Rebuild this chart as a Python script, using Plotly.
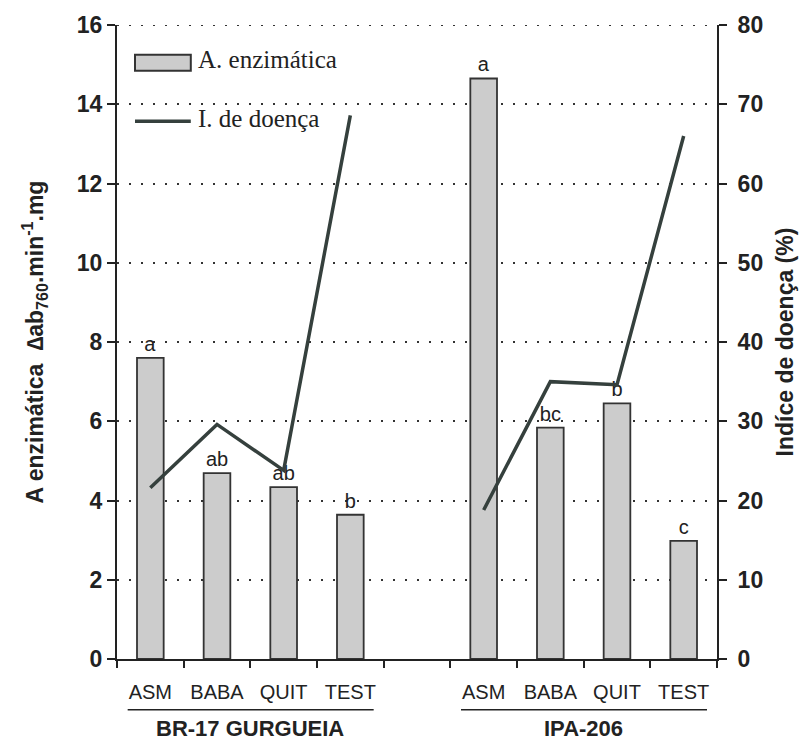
import plotly.graph_objects as go

# Treatments and cultivars
treatments = ["ASM", "BABA", "QUIT", "TEST"]
cultivars = ["BR-17 GURGUEIA", "IPA-206"]

# Enzymatic activity (Δab760·min⁻¹·mg) per treatment
enzyme_br17 = [7.60, 4.69, 4.34, 3.64]
enzyme_ipa206 = [14.65, 5.84, 6.45, 2.98]

# Mean-separation letters shown above the bars
letters_br17 = ["a", "ab", "ab", "b"]
letters_ipa206 = ["a", "bc", "b", "c"]

# Disease index (%) per treatment
disease_br17 = [21.6, 29.6, 23.8, 68.6]
disease_ipa206 = [18.8, 35.0, 34.6, 66.0]

# Numeric slots: one per treatment, with an empty slot between cultivars
n = len(treatments)
pos_br17 = list(range(n))
pos_ipa206 = [n + 1 + i for i in range(n)]
all_pos = pos_br17 + [n] + pos_ipa206

bar_x = pos_br17 + pos_ipa206
bar_y = enzyme_br17 + enzyme_ipa206
bar_text = letters_br17 + letters_ipa206

line_x = all_pos
line_y = disease_br17 + [None] + disease_ipa206

tick_vals = pos_br17 + pos_ipa206
tick_text = treatments + treatments

INK = "#222222"
BAR_FILL = "#cccccc"
BAR_EDGE = "#333333"
LINE_COLOR = "#35403d"
SANS = "Liberation Sans, Arial, sans-serif"
SERIF = "Liberation Serif, Times New Roman, serif"
DOTS = "2px,10px"

fig = go.Figure()

fig.add_trace(go.Bar(
    x=bar_x, y=bar_y, width=0.4,
    name="A. enzimática", showlegend=False,
    marker=dict(color=BAR_FILL, line=dict(color=BAR_EDGE, width=1.8)),
    text=bar_text, textposition="outside", constraintext="none",
    textfont=dict(family=SANS, size=20, color=INK),
    cliponaxis=False, hoverinfo="x+y",
))

fig.add_trace(go.Scatter(
    x=line_x, y=line_y, yaxis="y2", mode="lines",
    name="I. de doença", showlegend=False,
    line=dict(color=LINE_COLOR, width=3.5),
    connectgaps=False,
))

# Dotted rule along the top of the plot (gridline at the range end)
fig.add_shape(type="line", xref="paper", yref="y", x0=0, x1=1, y0=16, y1=16,
              line=dict(color=BAR_EDGE, width=2, dash=DOTS), layer="below")

# Key: wide swatches with serif labels in the upper-left corner
fig.add_shape(type="rect", xref="paper", yref="paper",
              x0=0.030, x1=0.123, y0=0.928, y1=0.953,
              fillcolor=BAR_FILL, line=dict(color=BAR_EDGE, width=2))
fig.add_shape(type="line", xref="paper", yref="paper",
              x0=0.030, x1=0.123, y0=0.848, y1=0.848,
              line=dict(color=LINE_COLOR, width=3.5))
for label, ypos in [("A. enzimática", 0.945), ("I. de doença", 0.852)]:
    fig.add_annotation(x=0.131, y=ypos, xref="paper", yref="paper",
                       text=label, showarrow=False,
                       xanchor="left", yanchor="middle",
                       font=dict(family=SERIF, size=25, color=INK))

# Underlines and cultivar names beneath the treatment labels
for positions, name in [(pos_br17, cultivars[0]), (pos_ipa206, cultivars[1])]:
    fig.add_shape(type="line", xref="x", yref="paper",
                  x0=positions[0] - 0.34, x1=positions[-1] + 0.35,
                  y0=-0.080, y1=-0.080,
                  line=dict(color=INK, width=1.5))
    fig.add_annotation(x=(positions[0] + positions[-1]) / 2, y=-0.110,
                       xref="x", yref="paper", text=f"<b>{name}</b>",
                       showarrow=False, yanchor="middle",
                       font=dict(family=SANS, size=22, color=INK))

fig.update_layout(
    width=809, height=741,
    margin=dict(l=117, r=92, t=21, b=82),
    paper_bgcolor="white", plot_bgcolor="white",
    showlegend=False,
    xaxis=dict(
        range=[-0.5, all_pos[-1] + 0.5],
        tickmode="array", tickvals=tick_vals, ticktext=tick_text,
        ticks="", showgrid=False, zeroline=False,
        showline=True, linecolor=INK, linewidth=2,
        tickfont=dict(family=SANS, size=20, color=INK),
        ticklabelstandoff=14,
        minor=dict(tickmode="array",
                   tickvals=[p - 0.5 for p in all_pos] + [all_pos[-1] + 0.5],
                   ticks="outside", ticklen=7, tickwidth=2, tickcolor=INK,
                   showgrid=False),
    ),
    yaxis=dict(
        range=[0, 16], dtick=2, tick0=0,
        ticks="outside", ticklen=8, tickwidth=2, tickcolor=INK,
        showline=True, linecolor=INK, linewidth=2,
        showgrid=True, gridcolor=BAR_EDGE, gridwidth=2, griddash=DOTS,
        zeroline=False,
        tickfont=dict(family=SANS, size=23, color=INK, weight="bold"),
        title=dict(text="<b>A enzimática  ∆ab<sub>760</sub>.min<sup>-1</sup>.mg</b>",
                   font=dict(family=SANS, size=23, color=INK), standoff=27),
    ),
    yaxis2=dict(
        range=[0, 80], dtick=10, tick0=0,
        overlaying="y", side="right", anchor="x",
        ticks="outside", ticklen=8, tickwidth=2, tickcolor=INK,
        showline=True, linecolor=INK, linewidth=2,
        showgrid=False, zeroline=False,
        tickfont=dict(family=SANS, size=23, color=INK, weight="bold"),
        ticklabelstandoff=6,
        title=dict(text="<b>Indíce de doença (%)</b>",
                   font=dict(family=SANS, size=23, color=INK), standoff=15),
    ),
)

fig.write_html("out.html")
